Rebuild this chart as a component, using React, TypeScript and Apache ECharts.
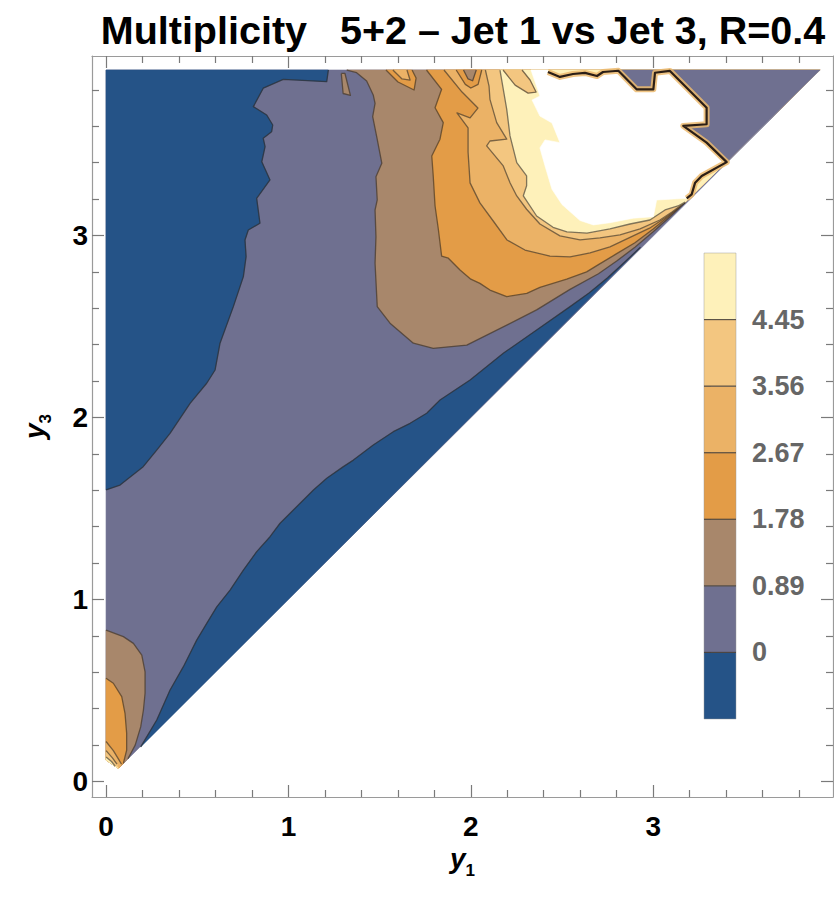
import React, { useEffect, useRef } from "react";
import * as echarts from "echarts";

type Pt = [number, number];

const TITLE = "Multiplicity   5+2 \u2013 Jet 1 vs Jet 3, R=0.4";
const X_RANGE = [-0.077, 3.986];
const Y_RANGE = [-0.085, 3.986];
const MAJOR_TICKS = [0, 1, 2, 3];
const MINOR_TICKS = [0.2, 0.4, 0.6, 0.8, 1.2, 1.4, 1.6, 1.8, 2.2, 2.4, 2.6, 2.8, 3.2, 3.4, 3.6, 3.8];
const CONTOUR_LEVELS = [0, 0.89, 1.78, 2.67, 3.56, 4.45];
const LEGEND_BOUNDS = [-0.89, 0, 0.89, 1.78, 2.67, 3.56, 4.45, 5.34];
const BAND_COLORS = ["#255387", "#6F7090", "#A8876B", "#E39C47", "#EBB266", "#F3C680", "#FEF1BA"];

// domain of the data (y3 >= y1 triangle)
const DOMAIN: Pt[] = [[0, 0.118], [0.068, 0.072], [3.915, 3.909], [0, 3.909]];
const TOP_RIGHT: Pt[] = [[3.915, 3.909]];
const ORIGIN_CLOSE: Pt[] = [[0.068, 0.072], [0, 0.118]];

// level 0 contours (value < 0 regions)
const BLUE_LEFT: Pt[] = [
  [1.219, 3.909], [1.21, 3.845], [0.972, 3.858], [0.862, 3.809], [0.808, 3.708], [0.881, 3.662],
  [0.914, 3.607], [0.908, 3.57], [0.862, 3.534], [0.872, 3.488], [0.854, 3.405], [0.899, 3.305],
  [0.826, 3.204], [0.844, 3.067], [0.78, 3.03], [0.762, 2.975], [0.768, 2.884], [0.753, 2.774],
  [0.698, 2.609], [0.625, 2.408], [0.598, 2.261], [0.552, 2.188], [0.461, 2.078], [0.351, 1.913],
  [0.278, 1.821], [0.204, 1.73], [0.077, 1.629], [0, 1.602],
];
const BLUE_STRIP: Pt[] = [
  [0.19, 0.19], [0.278, 0.338], [0.351, 0.503], [0.424, 0.631], [0.497, 0.777], [0.552, 0.869],
  [0.607, 0.96], [0.68, 1.052], [0.753, 1.162], [0.826, 1.263], [0.899, 1.345], [0.954, 1.419],
  [1.009, 1.474], [1.082, 1.547], [1.137, 1.602], [1.21, 1.666], [1.301, 1.73], [1.356, 1.766],
  [1.465, 1.849], [1.575, 1.922], [1.667, 1.968], [1.758, 2.023], [1.831, 2.096], [1.996, 2.206],
  [2.178, 2.353], [2.361, 2.481], [2.544, 2.609], [2.65, 2.685], [2.75, 2.768], [2.85, 2.86],
  [2.93, 2.935],
];

// level 0.89
const L089_ISLAND: Pt[] = [[1.29, 3.89], [1.3, 3.78], [1.34, 3.77], [1.31, 3.89]];
const L089_MAIN: Pt[] = [
  [1.32, 3.909], [1.374, 3.894], [1.429, 3.849], [1.465, 3.772], [1.475, 3.726], [1.462, 3.653],
  [1.484, 3.543], [1.512, 3.397], [1.48, 3.323], [1.487, 3.195], [1.475, 3.14], [1.48, 2.993],
  [1.475, 2.847], [1.487, 2.609], [1.557, 2.518], [1.685, 2.408], [1.794, 2.38], [1.978, 2.398],
  [2.178, 2.498], [2.361, 2.591], [2.544, 2.704], [2.7, 2.79], [2.8, 2.86], [2.9, 2.935],
  [3.0, 3.02], [3.1, 3.11], [3.175, 3.183],
];
// level 1.78
const L178_MAIN: Pt[] = [
  [1.757, 3.909], [1.84, 3.803], [1.804, 3.702], [1.849, 3.62], [1.831, 3.529], [1.786, 3.437],
  [1.794, 3.327], [1.804, 3.162], [1.822, 3.034], [1.84, 2.887], [1.877, 2.875], [1.941, 2.81],
  [2.0, 2.76], [2.05, 2.737], [2.105, 2.7], [2.197, 2.664], [2.307, 2.682], [2.379, 2.715],
  [2.526, 2.76], [2.635, 2.8], [2.7, 2.84], [2.8, 2.9], [2.9, 2.96], [3.0, 3.035], [3.1, 3.118],
  [3.175, 3.183],
];
const L178_TOP_ISLAND: Pt[] = [[1.535, 3.909], [1.601, 3.843], [1.689, 3.799], [1.7, 3.865], [1.678, 3.909]];
// level 2.67
const L267_MAIN: Pt[] = [
  [1.853, 3.909], [1.952, 3.788], [2.039, 3.7], [1.996, 3.646], [1.924, 3.673], [1.985, 3.591],
  [1.985, 3.459], [1.996, 3.289], [2.05, 3.179], [2.127, 3.074], [2.199, 2.975], [2.297, 2.92],
  [2.434, 2.887], [2.544, 2.882], [2.654, 2.904], [2.763, 2.937], [2.873, 2.99], [2.98, 3.04],
  [3.07, 3.1], [3.175, 3.183],
];
const L267_TOP_ISLAND: Pt[] = [[1.573, 3.909], [1.623, 3.86], [1.667, 3.854], [1.65, 3.909]];
// dip inside the 2.67 band near the top
const DIP_OUTER: Pt[] = [[1.92, 3.909], [1.97, 3.83], [2.0, 3.81], [2.04, 3.83], [2.06, 3.909]];
const DIP_INNER: Pt[] = [[1.96, 3.909], [1.985, 3.86], [2.01, 3.85], [2.03, 3.909]];
// level 3.56
const L356_MAIN: Pt[] = [
  [2.08, 3.909], [2.1, 3.82], [2.105, 3.748], [2.142, 3.62], [2.197, 3.529], [2.105, 3.519],
  [2.087, 3.492], [2.178, 3.382], [2.215, 3.29], [2.252, 3.217], [2.306, 3.144], [2.379, 3.063],
  [2.489, 2.998], [2.599, 2.976], [2.708, 2.987], [2.818, 3.003], [2.928, 3.036], [3.037, 3.085],
  [3.103, 3.129], [3.175, 3.183],
];
// level 4.45
const L445_MAIN: Pt[] = [
  [2.16, 3.909], [2.197, 3.693], [2.215, 3.547], [2.252, 3.4], [2.306, 3.327], [2.306, 3.273],
  [2.288, 3.218], [2.361, 3.107], [2.451, 3.045], [2.527, 3.02], [2.637, 3.013], [2.763, 3.036],
  [2.873, 3.063], [2.982, 3.085], [3.065, 3.14], [3.136, 3.162], [3.175, 3.183],
];
const L445_TONGUE: Pt[] = [[2.177, 3.909], [2.243, 3.826], [2.314, 3.782], [2.358, 3.788], [2.325, 3.854], [2.281, 3.909]];
// area above the plotted range (left blank)
const ABOVE_RANGE: Pt[] = [
  [2.33, 3.909], [2.423, 3.909], [2.423, 3.898], [2.489, 3.871], [2.56, 3.887], [2.626, 3.893],
  [2.692, 3.876], [2.725, 3.898], [2.809, 3.905], [2.909, 3.803], [3.001, 3.803], [3.01, 3.894],
  [3.092, 3.904], [3.293, 3.702], [3.293, 3.611], [3.165, 3.602], [3.293, 3.51], [3.403, 3.403],
  [3.266, 3.327], [3.23, 3.29], [3.211, 3.226], [3.184, 3.204], [3.019, 3.195], [3.001, 3.103],
  [2.891, 3.095], [2.763, 3.07], [2.672, 3.058], [2.599, 3.082], [2.5, 3.17], [2.445, 3.254],
  [2.407, 3.382], [2.379, 3.481], [2.407, 3.525], [2.489, 3.51], [2.445, 3.618], [2.379, 3.656],
  [2.336, 3.744], [2.379, 3.766],
];
const BLACK_EDGE: Pt[] = [
  [2.423, 3.898], [2.489, 3.871], [2.56, 3.887], [2.626, 3.893], [2.692, 3.876], [2.725, 3.898],
  [2.809, 3.905], [2.909, 3.803], [3.001, 3.803], [3.01, 3.894], [3.092, 3.904], [3.293, 3.702],
  [3.293, 3.611], [3.165, 3.602], [3.293, 3.51], [3.403, 3.403], [3.266, 3.327], [3.23, 3.29],
  [3.211, 3.226], [3.184, 3.204],
];
// region below 0.89 at the top right
const PURPLE_RIGHT: Pt[] = [
  [2.809, 3.909], [2.909, 3.803], [3.001, 3.803], [3.01, 3.894], [3.092, 3.904], [3.293, 3.702],
  [3.293, 3.611], [3.165, 3.602], [3.293, 3.51], [3.403, 3.403],
];
// features near the origin
const ORIGIN_L089: Pt[] = [
  [0, 0.832], [0.095, 0.796], [0.15, 0.759], [0.196, 0.695], [0.214, 0.603], [0.214, 0.485],
  [0.205, 0.393], [0.19, 0.3], [0.16, 0.2], [0.12, 0.125],
];
const ORIGIN_L178: Pt[] = [
  [0, 0.567], [0.04, 0.54], [0.086, 0.466], [0.104, 0.375], [0.113, 0.265], [0.113, 0.173], [0.095, 0.1],
];
const ORIGIN_L267: Pt[] = [[0, 0.22], [0.04, 0.17], [0.07, 0.12], [0.085, 0.095]];
const ORIGIN_L356: Pt[] = [[0, 0.17], [0.035, 0.13], [0.06, 0.095]];
const ORIGIN_L445: Pt[] = [[0, 0.135], [0.03, 0.11], [0.05, 0.085]];

interface Region {
  band: number; // index into BAND_COLORS, -1 = blank
  contour: Pt[];
  closure: Pt[];
  line: "none" | "open" | "closed";
}

const REGIONS: Region[] = [
  { band: 1, contour: DOMAIN, closure: [], line: "none" },
  { band: 0, contour: BLUE_LEFT, closure: [[0, 3.909]], line: "open" },
  { band: 0, contour: BLUE_STRIP, closure: [], line: "open" },
  { band: 2, contour: L089_ISLAND, closure: [], line: "closed" },
  { band: 2, contour: L089_MAIN, closure: TOP_RIGHT, line: "open" },
  { band: 3, contour: L178_MAIN, closure: TOP_RIGHT, line: "open" },
  { band: 3, contour: L178_TOP_ISLAND, closure: [], line: "open" },
  { band: 4, contour: L267_TOP_ISLAND, closure: [], line: "open" },
  { band: 4, contour: L267_MAIN, closure: TOP_RIGHT, line: "open" },
  { band: 3, contour: DIP_OUTER, closure: [], line: "open" },
  { band: 2, contour: DIP_INNER, closure: [], line: "open" },
  { band: 5, contour: L356_MAIN, closure: TOP_RIGHT, line: "open" },
  { band: 6, contour: L445_MAIN, closure: TOP_RIGHT, line: "open" },
  { band: -1, contour: ABOVE_RANGE, closure: [], line: "none" },
  { band: 5, contour: L445_TONGUE, closure: [], line: "open" },
  { band: 1, contour: PURPLE_RIGHT, closure: TOP_RIGHT, line: "none" },
  { band: 2, contour: ORIGIN_L089, closure: ORIGIN_CLOSE, line: "open" },
  { band: 3, contour: ORIGIN_L178, closure: ORIGIN_CLOSE, line: "open" },
  { band: 4, contour: ORIGIN_L267, closure: ORIGIN_CLOSE, line: "open" },
  { band: 5, contour: ORIGIN_L356, closure: ORIGIN_CLOSE, line: "open" },
  { band: 6, contour: ORIGIN_L445, closure: ORIGIN_CLOSE, line: "open" },
];

const FONT = '"Liberation Sans", Arial, sans-serif';
const FRAME = { color: "#9a9a9a", width: 1.2 };
const TICK = { color: "#7a7a7a", width: 1.2 };
const CONTOUR_LINE = "rgba(45,38,32,0.6)";

const axisName = (main: string, sub: string) => `{v|${main}}{s|${sub}}`;
const nameRich = {
  v: { fontFamily: FONT, fontStyle: "italic", fontWeight: "bold", fontSize: 28, lineHeight: 40, color: "#000" },
  s: { fontFamily: FONT, fontWeight: "bold", fontSize: 17, lineHeight: 18, verticalAlign: "bottom", color: "#000" },
};

export default function App() {
  const ref = useRef<HTMLDivElement>(null);
  useEffect(() => {
    if (!ref.current) return;
    const chart = echarts.init(ref.current, undefined, { renderer: "svg" });
    const gridRect = { left: 92, top: 56, width: 741, height: 741, outerBoundsMode: "none" };
    const majorX = (pos: "bottom" | "top", labels: boolean, extra: any = {}) => ({
      type: "value", gridIndex: 0, position: pos, min: X_RANGE[0], max: X_RANGE[1],
      axisLine: { show: true, onZero: false, lineStyle: FRAME },
      axisTick: { show: true, inside: true, length: 12, customValues: MAJOR_TICKS, lineStyle: TICK },
      axisLabel: {
        show: labels, customValues: MAJOR_TICKS, fontFamily: FONT, fontWeight: "bold", fontSize: 28,
        color: "#000", margin: 15, formatter: (v: number) => String(v),
      },
      splitLine: { show: false },
      ...extra,
    });
    const majorY = (pos: "left" | "right", labels: boolean, extra: any = {}) => ({
      type: "value", gridIndex: 0, position: pos, min: Y_RANGE[0], max: Y_RANGE[1],
      axisLine: { show: true, onZero: false, lineStyle: FRAME },
      axisTick: { show: true, inside: true, length: 12, customValues: MAJOR_TICKS, lineStyle: TICK },
      axisLabel: {
        show: labels, customValues: MAJOR_TICKS, fontFamily: FONT, fontWeight: "bold", fontSize: 28,
        color: "#000", margin: 4, formatter: (v: number) => String(v),
      },
      splitLine: { show: false },
      ...extra,
    });
    const minorX = (pos: "bottom" | "top") => ({
      type: "value", gridIndex: 1, position: pos, min: X_RANGE[0], max: X_RANGE[1],
      axisLine: { show: false, onZero: false },
      axisTick: { show: true, inside: true, length: 7, customValues: MINOR_TICKS, lineStyle: TICK },
      axisLabel: { show: false }, splitLine: { show: false },
    });
    const minorY = (pos: "left" | "right") => ({
      type: "value", gridIndex: 1, position: pos, min: Y_RANGE[0], max: Y_RANGE[1],
      axisLine: { show: false, onZero: false },
      axisTick: { show: true, inside: true, length: 7, customValues: MINOR_TICKS, lineStyle: TICK },
      axisLabel: { show: false }, splitLine: { show: false },
    });

    const option: any = {
      animation: false,
      backgroundColor: "#ffffff",
      title: {
        text: TITLE, left: 458, top: 5, textAlign: "center",
        textStyle: { fontFamily: FONT, fontWeight: "bold", fontSize: 39.5, color: "#000" },
      },
      grid: [
        { ...gridRect },
        { ...gridRect },
        { left: 704, top: 253, width: 32, height: 466, outerBoundsMode: "none" },
      ],
      xAxis: [
        majorX("bottom", true, {
          name: axisName("y", "1"), nameLocation: "middle", nameGap: 37,
          nameTextStyle: { rich: nameRich },
        }),
        majorX("top", false),
        minorX("bottom"),
        minorX("top"),
        { type: "value", gridIndex: 2, min: 0, max: 1, show: false },
      ],
      yAxis: [
        majorY("left", true, {
          name: axisName("y", "3"), nameLocation: "middle", nameGap: 38, nameRotate: 90,
          nameTextStyle: { rich: nameRich },
        }),
        majorY("right", false),
        minorY("left"),
        minorY("right"),
        {
          type: "value", gridIndex: 2, position: "right", min: LEGEND_BOUNDS[0],
          max: LEGEND_BOUNDS[LEGEND_BOUNDS.length - 1],
          axisLine: { show: false },
          axisTick: { show: true, inside: false, length: 7, customValues: CONTOUR_LEVELS, lineStyle: { color: "#777", width: 1.2 } },
          axisLabel: {
            customValues: CONTOUR_LEVELS, fontFamily: FONT, fontWeight: "bold", fontSize: 27, color: "#666",
            margin: 16, formatter: (v: number) => String(v),
          },
          splitLine: { show: false },
        },
      ],
      series: [
        {
          type: "custom", coordinateSystem: "cartesian2d", xAxisIndex: 0, yAxisIndex: 0, clip: false,
          data: REGIONS.map(() => [1, 1]),
          renderItem: (params: any, api: any) => {
            const r = REGIONS[params.dataIndex];
            const fill = r.band < 0 ? "#ffffff" : BAND_COLORS[r.band];
            const pts = [...r.contour, ...r.closure].map((p) => api.coord(p));
            const children: any[] = [
              { type: "polygon", shape: { points: pts }, style: { fill, stroke: fill, lineWidth: 0.6 } },
            ];
            if (r.line !== "none") {
              const lp = r.contour.map((p) => api.coord(p));
              if (r.line === "closed") lp.push(lp[0]);
              children.push({
                type: "polyline", shape: { points: lp },
                style: { fill: null, stroke: CONTOUR_LINE, lineWidth: 1.3, lineJoin: "round" },
              });
            }
            return { type: "group", children };
          },
        },
        {
          type: "custom", coordinateSystem: "cartesian2d", xAxisIndex: 0, yAxisIndex: 0, clip: false,
          data: [[1, 1]],
          renderItem: (_p: any, api: any) => {
            const lp = BLACK_EDGE.map((p) => api.coord(p));
            return {
              type: "group",
              children: [
                { type: "polyline", shape: { points: lp }, style: { fill: null, stroke: "rgba(236,186,110,0.85)", lineWidth: 6, lineJoin: "round" } },
                { type: "polyline", shape: { points: lp }, style: { fill: null, stroke: "#2a1e16", lineWidth: 2.2, lineJoin: "round" } },
              ],
            };
          },
        },
        {
          type: "custom", coordinateSystem: "cartesian2d", xAxisIndex: 4, yAxisIndex: 4, clip: false,
          data: BAND_COLORS.map(() => [0.5, 0]),
          renderItem: (params: any, api: any) => {
            const i = params.dataIndex;
            const p0 = api.coord([0, LEGEND_BOUNDS[i]]);
            const p1 = api.coord([1, LEGEND_BOUNDS[i + 1]]);
            const children: any[] = [
              {
                type: "rect",
                shape: { x: p0[0], y: p1[1], width: p1[0] - p0[0], height: p0[1] - p1[1] },
                style: { fill: BAND_COLORS[i], stroke: "rgba(150,150,150,0.45)", lineWidth: 1 },
              },
            ];
            if (i > 0) {
              children.push({
                type: "line", shape: { x1: p0[0], y1: p0[1], x2: p1[0], y2: p0[1] },
                style: { stroke: "rgba(50,40,30,0.7)", lineWidth: 1.2 },
              });
            }
            return { type: "group", children };
          },
        },
      ],
    };
    chart.setOption(option);
    return () => chart.dispose();
  }, []);
  return <div ref={ref} style={{ position: "absolute", left: 0, top: 0, width: 834, height: 903 }} />;
}
